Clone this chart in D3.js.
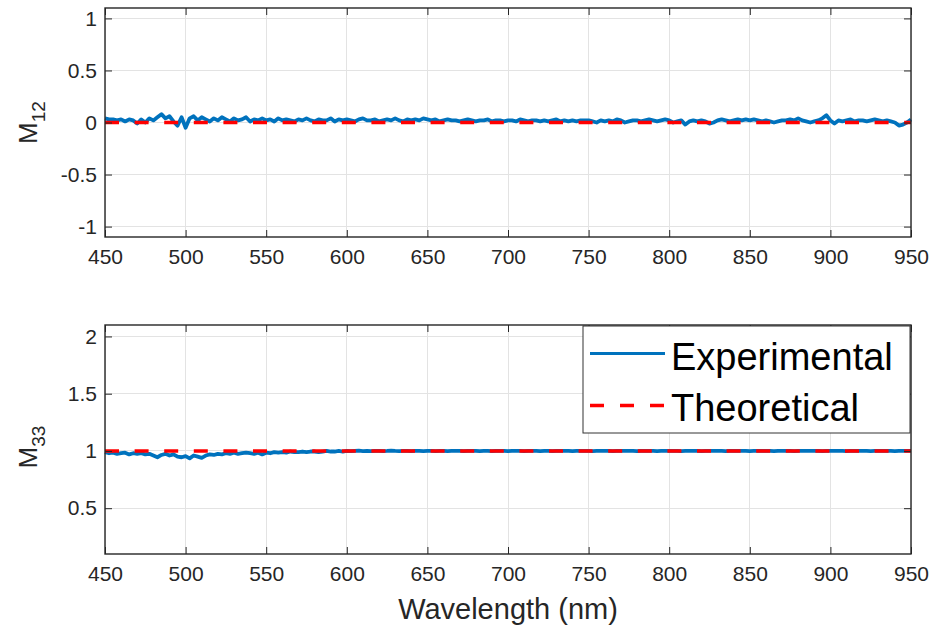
<!DOCTYPE html>
<html><head><meta charset="utf-8">
<script src="https://cdn.jsdelivr.net/npm/d3@7"></script>
<style>
body{margin:0;background:#fff;}
svg{display:block;font-family:"Liberation Sans",Arial,Helvetica,sans-serif;}
</style></head>
<body><svg id="chart" width="931" height="630"></svg>
<script>
// ---------- data ----------
const wavelength = d3.range(450, 950.001, 2.5);
const xTicks = [450,500,550,600,650,700,750,800,850,900,950];
const m12Ticks = [-1,-0.5,0,0.5,1];
const m33Ticks = [0.5,1,1.5,2];
const m12Experimental = [
 0.04,0.03,0.03,0.02,0.03,0.01,0.03,0.02,-0.01,0.03,0.00,0.04,0.02,0.05,0.08,0.04,0.06,0.01,-0.03,0.05,
 -0.05,0.04,0.06,0.02,0.05,0.03,0.01,0.04,0.02,0.05,0.03,0.01,0.04,0.02,0.03,0.05,0.01,0.03,0.02,0.04,
 0.02,0.03,0.01,0.04,0.02,0.03,0.02,0.01,0.03,0.02,0.04,0.02,0.01,0.03,0.02,0.02,0.04,0.01,0.03,0.02,
 0.03,0.02,0.01,0.03,0.04,0.02,0.02,0.03,0.01,0.02,0.03,0.02,0.04,0.02,0.01,0.03,0.02,0.03,0.02,0.04,
 0.03,0.02,0.03,0.01,0.02,0.03,0.02,0.02,0.01,0.02,0.03,0.02,0.01,0.02,0.02,0.03,0.01,0.02,0.02,0.01,
 0.02,0.02,0.01,0.03,0.02,0.01,0.02,0.02,0.01,0.02,0.01,0.02,0.03,0.01,0.02,0.01,0.02,0.01,0.02,0.02,
 0.02,0.01,0.00,0.02,0.01,0.02,0.01,0.03,0.02,0.00,0.01,0.02,0.02,0.01,0.02,0.03,0.02,0.01,0.02,0.03,
 0.02,0.00,0.01,0.02,-0.02,0.01,0.02,0.01,0.02,0.01,-0.01,0.00,0.02,0.03,0.02,0.01,0.02,0.03,0.02,0.03,
 0.02,0.03,0.02,0.01,0.02,0.01,0.00,0.01,0.02,0.02,0.03,0.02,0.04,0.02,0.01,0.00,0.01,0.02,0.04,0.07,
 0.02,-0.01,0.02,0.01,0.02,0.03,0.01,0.02,0.02,0.01,0.02,0.03,0.02,0.01,0.02,0.01,0.00,-0.03,-0.02,0.00,
 0.03];
const m33Experimental = [
 0.99,0.98,0.985,0.975,0.98,0.985,0.97,0.98,0.975,0.98,0.97,0.975,0.96,0.945,0.965,0.975,0.96,0.97,0.95,0.945,
 0.955,0.935,0.96,0.95,0.94,0.96,0.97,0.965,0.975,0.97,0.98,0.975,0.985,0.975,0.98,0.985,0.98,0.975,0.985,0.97,
 0.985,0.98,0.99,0.985,0.99,0.985,0.995,0.99,0.99,0.995,0.99,0.995,0.995,0.99,0.995,1.0,0.995,0.995,1.0,0.995,
 1.0,0.998,1.0,1.002,0.999,1.0,0.998,1.001,1.0,0.999,1.0,1.002,1.0,0.999,1.0,1.001,0.999,1.0,1.0,0.998,
 1.0,1.001,0.999,1.0,1.0,0.998,1.0,1.001,1.0,0.999,1.0,1.0,1.001,0.999,1.0,1.0,0.999,1.001,1.0,1.0,
 0.999,1.0,1.001,1.0,0.999,1.0,1.0,1.001,0.999,1.0,1.0,0.999,1.0,1.001,1.0,1.0,0.999,1.0,1.0,1.001,
 1.0,0.999,1.0,1.0,1.001,1.0,0.999,1.0,1.0,1.001,1.0,1.0,0.999,1.0,1.0,1.001,1.0,0.999,1.0,1.0,
 1.0,1.001,1.0,0.999,1.0,1.0,1.0,1.001,0.999,1.0,1.0,1.0,1.001,1.0,0.999,1.0,1.0,1.0,1.001,1.0,
 0.999,1.0,1.0,1.001,1.0,1.0,0.999,1.0,1.0,1.001,1.0,0.999,1.0,1.0,1.0,1.001,1.0,1.0,0.999,1.0,
 1.0,1.001,1.0,1.0,0.999,1.0,1.0,1.001,1.0,1.0,0.999,1.0,1.0,1.0,1.001,1.0,0.999,1.0,1.0,1.0,
 1.0];
const theoryWavelength = [450, 950];
const m12Theoretical = [0, 0];
const m33Theoretical = [1, 1];
const seriesNames = ["Experimental","Theoretical"];

// ---------- style ----------
const BLUE = "#0072BD", RED = "#FF0000", AXC = "#262626", GRID = "#e3e3e3";
const svg = d3.select("#chart");
const left = 105, right = 911;
const x = d3.scaleLinear().domain([450,950]).range([left,right]);

function panel(top, bottom, yDomain, yTicks, exp, theo, labelSub, labelCy, withLegend){
  const y = d3.scaleLinear().domain(yDomain).range([bottom, top]);
  const g = svg.append("g");
  // grid
  g.append("g").selectAll("line").data(xTicks).join("line")
    .attr("x1", d=>x(d)).attr("x2", d=>x(d)).attr("y1", top).attr("y2", bottom)
    .attr("stroke", GRID).attr("stroke-width",1).attr("shape-rendering","crispEdges");
  g.append("g").selectAll("line").data(yTicks).join("line")
    .attr("y1", d=>y(d)).attr("y2", d=>y(d)).attr("x1", left).attr("x2", right)
    .attr("stroke", GRID).attr("stroke-width",1).attr("shape-rendering","crispEdges");
  // data lines
  const line = d3.line().x(d=>x(d[0])).y(d=>y(d[1]));
  g.append("path").datum(wavelength.map((w,i)=>[w, exp[i]]))
    .attr("d", line).attr("fill","none").attr("stroke", BLUE)
    .attr("stroke-width",3.8).attr("stroke-linejoin","round");
  g.append("path").datum(theoryWavelength.map((w,i)=>[w, theo[i]]))
    .attr("d", line).attr("fill","none").attr("stroke", RED)
    .attr("stroke-width",3.5).attr("stroke-dasharray","14,15.6");
  // axes
  const ax = (axis, tr) => {
    const a = g.append("g").attr("transform", tr).call(axis);
    a.select(".domain").remove();
    a.selectAll(".tick line").attr("stroke", AXC).attr("stroke-width",1);
    a.selectAll(".tick text").attr("fill", AXC).style("font-size","21px")
      .style("font-family",'"Liberation Sans",Arial,sans-serif');
    return a;
  };
  const fmt = d => String(d);
  ax(d3.axisBottom(x).tickValues(xTicks).tickSizeInner(-7).tickSizeOuter(0).tickPadding(12).tickFormat(fmt), `translate(0,${bottom})`);
  ax(d3.axisTop(x).tickValues(xTicks).tickSizeInner(-7).tickSizeOuter(0).tickFormat(""), `translate(0,${top})`);
  ax(d3.axisLeft(y).tickValues(yTicks).tickSizeInner(-7).tickSizeOuter(0).tickPadding(8).tickFormat(fmt), `translate(${left},0)`);
  ax(d3.axisRight(y).tickValues(yTicks).tickSizeInner(-7).tickSizeOuter(0).tickFormat(""), `translate(${right},0)`);
  // legend
  if (withLegend){
    const lg = g.append("g");
    lg.append("rect").attr("x",583).attr("y",326).attr("width",327).attr("height",107)
      .attr("fill","#fff").attr("stroke","#333").attr("stroke-width",1);
    lg.append("line").attr("x1",590).attr("x2",665).attr("y1",353.5).attr("y2",353.5)
      .attr("stroke",BLUE).attr("stroke-width",3.2);
    lg.append("line").attr("x1",590).attr("x2",665).attr("y1",405.5).attr("y2",405.5)
      .attr("stroke",RED).attr("stroke-width",3.5).attr("stroke-dasharray","14,16");
    lg.append("text").attr("x",671).attr("y",370).text(seriesNames[0])
      .attr("fill","#000").style("font-size","38px");
    lg.append("text").attr("x",671).attr("y",421).text(seriesNames[1])
      .attr("fill","#000").style("font-size","38px");
  }
  // frame
  g.append("rect").attr("x",left).attr("y",top).attr("width",right-left).attr("height",bottom-top)
    .attr("fill","none").attr("stroke",AXC).attr("stroke-width",1.4);
  // y label
  const t = g.append("text").attr("transform",`translate(37,${labelCy}) rotate(-90)`)
    .attr("text-anchor","middle").attr("fill",AXC).style("font-size","26px");
  t.append("tspan").text("M");
  t.append("tspan").attr("dy",8).style("font-size","19px").text(labelSub);
  return y;
}

panel(8, 237, [-1.1,1.1], m12Ticks, m12Experimental, m12Theoretical, "12", 122.5, false);
panel(325, 554, [0.1,2.1], m33Ticks, m33Experimental, m33Theoretical, "33", 447, true);

svg.append("text").attr("x",508).attr("y",619).attr("text-anchor","middle")
  .attr("fill",AXC).style("font-size","29px").text("Wavelength (nm)");
</script>
</body></html>
